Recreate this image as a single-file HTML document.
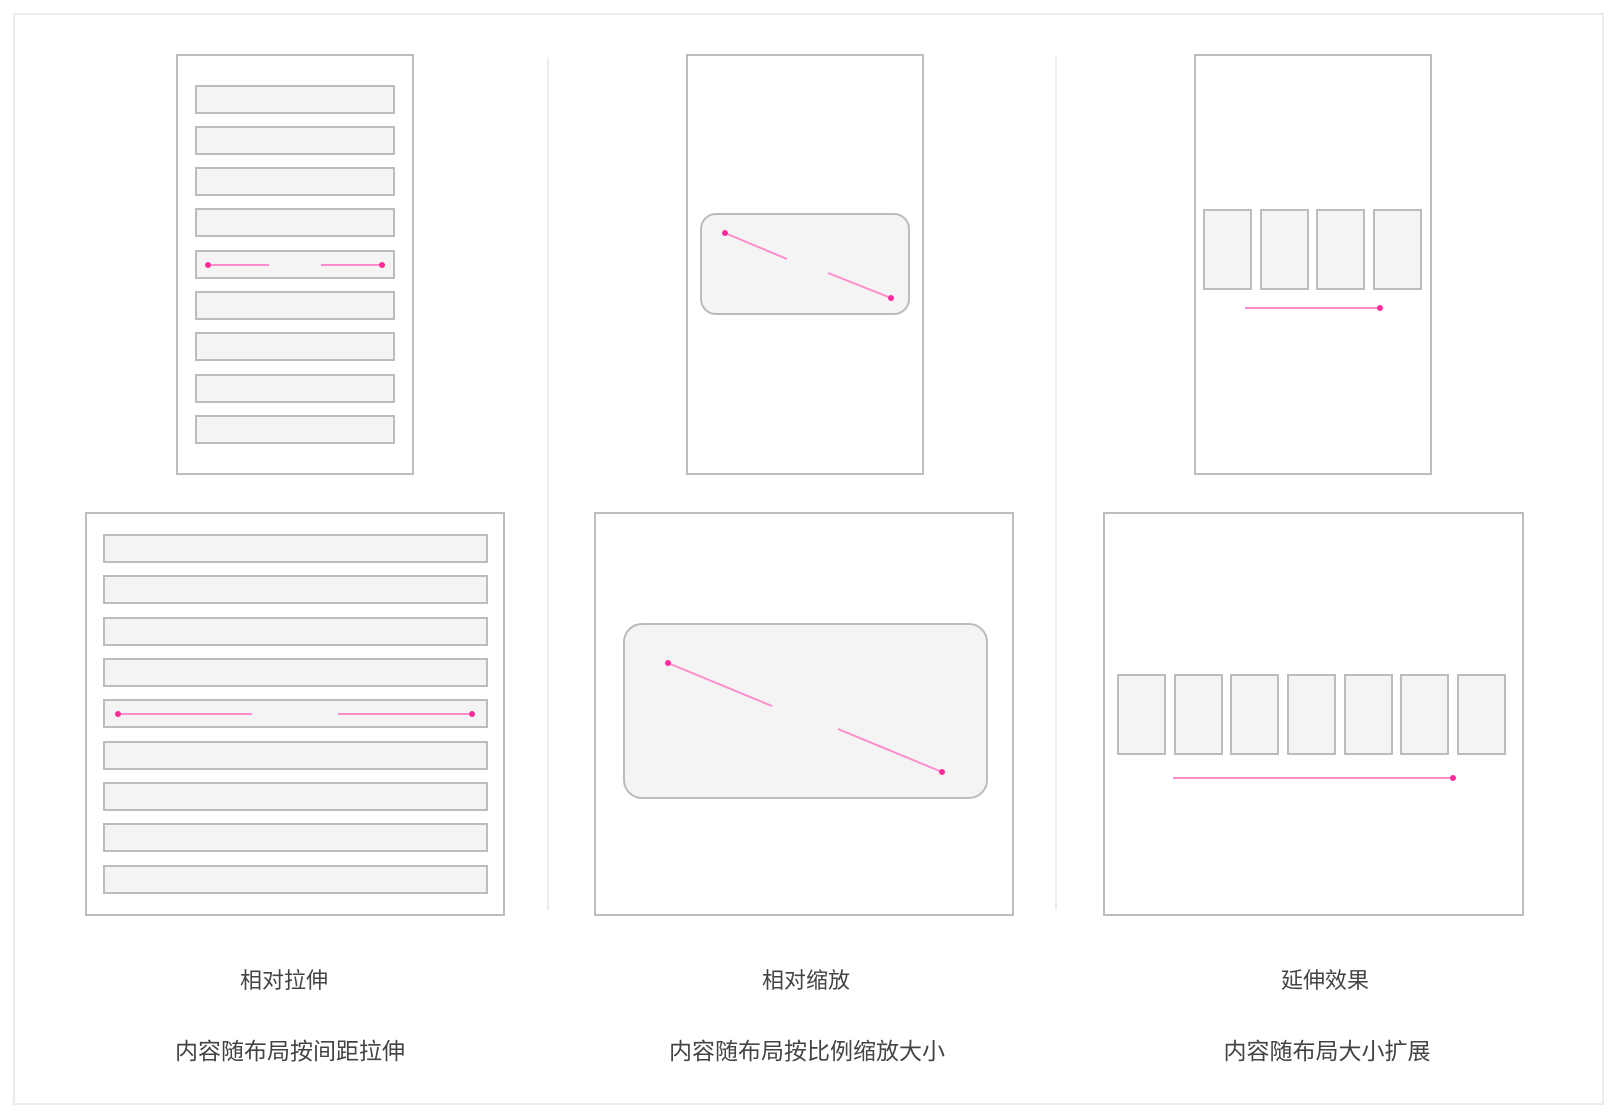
<!DOCTYPE html>
<html><head><meta charset="utf-8"><style>
html,body{margin:0;padding:0;background:#fff;width:1618px;height:1118px;overflow:hidden}
svg{display:block}
text{font-family:"Liberation Sans","Noto Sans CJK SC",sans-serif;fill:#444;}
</style></head><body>
<svg width="1618" height="1118" viewBox="0 0 1618 1118" xmlns="http://www.w3.org/2000/svg">
<defs>
<marker id="a" viewBox="0 0 10 10" refX="5" refY="5" markerWidth="3" markerHeight="3" orient="auto"><circle cx="5" cy="5" r="5" fill="#ff2a9c"/></marker>
</defs>
<rect x="14" y="14" width="1589" height="1090" fill="none" stroke="#ececec" stroke-width="2"/>
<line x1="548" y1="57" x2="548" y2="910" stroke="#e6e6e6" stroke-width="1.5"/>
<line x1="1056" y1="57" x2="1056" y2="910" stroke="#e6e6e6" stroke-width="1.5"/>
<g fill="none" stroke="#bdbdbd" stroke-width="2">
<rect x="177" y="55" width="236" height="419" fill="#fff"/>
<rect x="86" y="513" width="418" height="402" fill="#fff"/>
<rect x="687" y="55" width="236" height="419" fill="#fff"/>
<rect x="595" y="513" width="418" height="402" fill="#fff"/>
<rect x="1195" y="55" width="236" height="419" fill="#fff"/>
<rect x="1104" y="513" width="419" height="402" fill="#fff"/>
</g>
<g fill="#f4f4f4" stroke="#bcbcbc" stroke-width="2">
<rect x="196" y="86" width="198" height="27"/>
<rect x="196" y="127" width="198" height="27"/>
<rect x="196" y="168" width="198" height="27"/>
<rect x="196" y="209" width="198" height="27"/>
<rect x="196" y="251" width="198" height="27"/>
<rect x="196" y="292" width="198" height="27"/>
<rect x="196" y="333" width="198" height="27"/>
<rect x="196" y="375" width="198" height="27"/>
<rect x="196" y="416" width="198" height="27"/>

<rect x="104" y="535" width="383" height="27"/>
<rect x="104" y="576" width="383" height="27"/>
<rect x="104" y="618" width="383" height="27"/>
<rect x="104" y="659" width="383" height="27"/>
<rect x="104" y="700" width="383" height="27"/>
<rect x="104" y="742" width="383" height="27"/>
<rect x="104" y="783" width="383" height="27"/>
<rect x="104" y="824" width="383" height="27"/>
<rect x="104" y="866" width="383" height="27"/>

<rect x="701" y="214" width="208" height="100" rx="15"/>
<rect x="624" y="624" width="363" height="174" rx="18"/>

<rect x="1204" y="210" width="47" height="79"/>
<rect x="1261" y="210" width="47" height="79"/>
<rect x="1317" y="210" width="47" height="79"/>
<rect x="1374" y="210" width="47" height="79"/>

<rect x="1118" y="675" width="47" height="79"/>
<rect x="1175" y="675" width="47" height="79"/>
<rect x="1231" y="675" width="47" height="79"/>
<rect x="1288" y="675" width="47" height="79"/>
<rect x="1345" y="675" width="47" height="79"/>
<rect x="1401" y="675" width="47" height="79"/>
<rect x="1458" y="675" width="47" height="79"/>
</g>
<g stroke="#ff8ccc" stroke-width="2" marker-end="url(#a)">
<line x1="269" y1="265" x2="208" y2="265"/>
<line x1="321" y1="265" x2="382" y2="265"/>
<line x1="252" y1="714" x2="118" y2="714"/>
<line x1="338" y1="714" x2="472" y2="714"/>
<line x1="787" y1="259" x2="725" y2="233"/>
<line x1="828" y1="273" x2="891" y2="298"/>
<line x1="772" y1="706" x2="668" y2="663"/>
<line x1="838" y1="729" x2="942" y2="772"/>
<line x1="1245" y1="308" x2="1380" y2="308"/>
<line x1="1173" y1="778" x2="1453" y2="778"/>
</g>
<g font-size="22" text-anchor="middle">
<text x="284" y="988">相对拉伸</text>
<text x="290" y="1059" font-size="23">内容随布局按间距拉伸</text>
<text x="806" y="988">相对缩放</text>
<text x="807" y="1059" font-size="23">内容随布局按比例缩放大小</text>
<text x="1325" y="988">延伸效果</text>
<text x="1327" y="1059" font-size="23">内容随布局大小扩展</text>
</g>
</svg>
</body></html>
